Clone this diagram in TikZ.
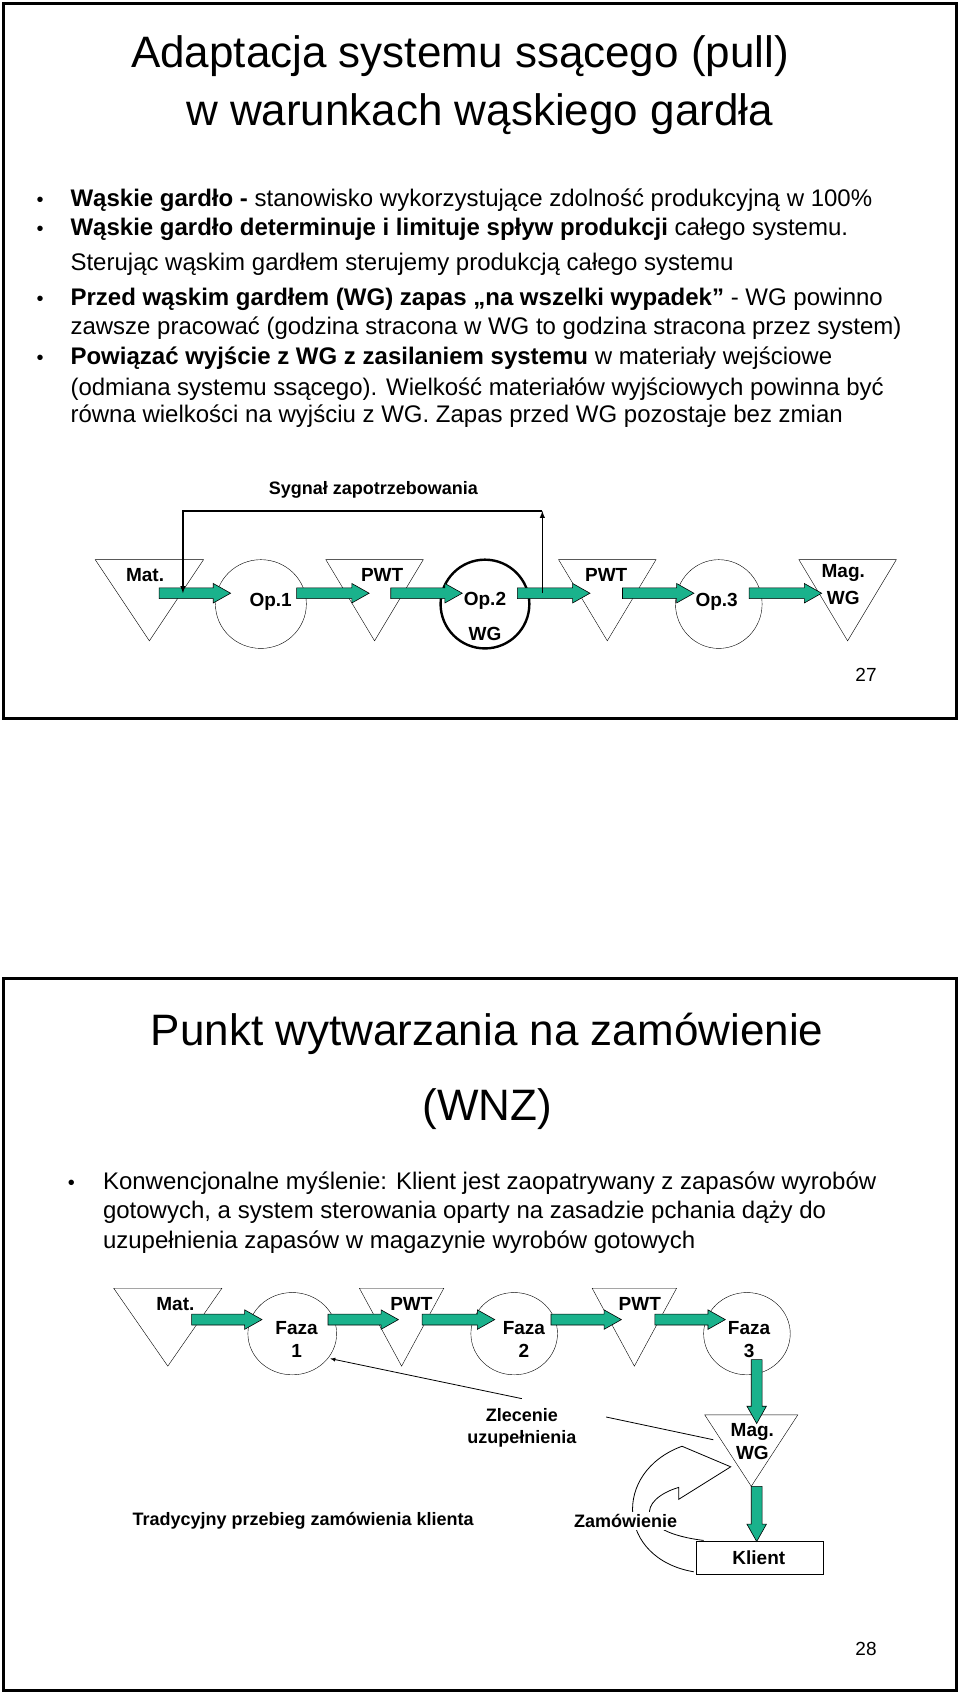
\documentclass[tikz,border=0pt]{standalone}
\usepackage{fontspec}
\setmainfont{Liberation Sans}
\definecolor{gfill}{RGB}{26,178,140}
\newcommand\harr[3]{\filldraw[garrow] (#1,#3-5) -- (#2-16,#3-5) -- (#2-16,#3-9) -- (#2,#3) -- (#2-16,#3+9) -- (#2-16,#3+5) -- (#1,#3+5) -- cycle;}
\newcommand\varr[3]{\filldraw[garrow] (#1-5,#2) -- (#1-5,#3-16) -- (#1-9,#3-16) -- (#1,#3) -- (#1+9,#3-16) -- (#1+5,#3-16) -- (#1+5,#2) -- cycle;}
\newcommand\tri[4]{\draw[thin] (#1-#3,#2) -- (#1+#3,#2) -- (#1,#2+#4) -- cycle;}
\begin{document}
\begin{tikzpicture}[x=1.0825pt,y=-1.0825pt,
  garrow/.style={fill=gfill,draw=black,line width=0.6pt},
  btxt/.style={anchor=base west,inner sep=0,font=\fontsize{24}{28}\selectfont},
  bul/.style={anchor=base,inner sep=0,font=\fontsize{20}{22}\selectfont},
  lab/.style={inner sep=0,font=\fontsize{19}{22}\selectfont\bfseries},
  plab/.style={inner sep=0,font=\fontsize{19}{22}\selectfont},
  ttl/.style={inner sep=0,font=\fontsize{44}{50}\selectfont}]
\useasboundingbox (0,0) rectangle (886.7,1565.8);
\fill[white] (0,0) rectangle (886.7,1565.8);
% frames
\draw[line width=3pt] (3,3) rectangle (884,664);
\draw[line width=3pt] (3,904) rectangle (884,1562);
% slide 1 title
\node[ttl] (t1) at (425,52) {Adaptacja systemu ssącego (pull)};
\node[ttl] (t2) at (443,105) {w warunkach wąskiego gardła};
% bullets
\foreach \y in {191,218,282,337} \node[bul] at (37,\y) {•};
\node[btxt] (b1) at (65,191) {\textbf{Wąskie gardło -} stanowisko wykorzystujące zdolność produkcyjną w 100\%};
\node[btxt] (b2) at (65,218) {\textbf{Wąskie gardło determinuje i limituje spływ produkcji} całego systemu.};
\node[btxt] (b3) at (65,250) {Sterując wąskim gardłem sterujemy produkcją całego systemu};
\node[btxt] (b4) at (65,282) {\textbf{Przed wąskim gardłem (WG) zapas „na wszelki wypadek”} - WG powinno};
\node[btxt] (b5) at (65,309) {zawsze pracować (godzina stracona w WG to godzina stracona przez system)};
\node[btxt] (b6) at (65,337) {\textbf{Powiązać wyjście z WG z zasilaniem systemu} w materiały wejściowe};
\node[btxt] (b7) at (65,365) {(odmiana systemu ssącego). Wielkość materiałów wyjściowych powinna być};
\node[btxt] (b8) at (65,390) {równa wielkości na wyjściu z WG. Zapas przed WG pozostaje bez zmian};
% diagram 1
\tri{138}{517}{50}{75}
\tri{346}{517}{45}{75}
\tri{561}{517}{45}{75}
\tri{783}{517}{45}{75}
\draw[thin] (241,558) ellipse [x radius=42,y radius=41];
\draw[line width=2.4pt] (448,558) ellipse [x radius=41,y radius=41];
\draw[thin] (664,558) ellipse [x radius=40,y radius=41];
\node[lab] (mat1) at (134,531) {Mat.};
\node[lab] (op1) at (250,556) {Op.1};
\node[lab] (pwt1) at (353,531) {PWT};
\node[lab] (op2) at (448,555) {Op.2};
\node[lab] (wg2) at (448,586) {WG};
\node[lab] (pwt2) at (560,531) {PWT};
\node[lab] (op3) at (662,556) {Op.3};
\node[lab] (mag1) at (779,529) {Mag.};
\node[lab] (mwg1) at (779,552) {WG};
\harr{147}{213}{548}
\harr{274}{341}{548}
\harr{361}{427}{548}
\harr{478}{545}{548}
\harr{575}{641}{548}
\harr{692}{759}{548}
\node[lab,font=\fontsize{18}{21}\selectfont\bfseries] (sig) at (345,453) {Sygnał zapotrzebowania};
\coordinate (fr) at (501,548);
\coordinate (fl) at (169,548);
\draw[line width=1.4pt,-latex] (fr) -- (501,472);
\draw[line width=1.4pt,-latex] (501,472) -- (169,472) -- (fl);
\node[inner sep=0,font=\fontsize{19}{22}\selectfont] (n27) at (800,623) {27};
% slide 2
\node[ttl] (t3) at (450,955) {Punkt wytwarzania na zamówienie};
\node[ttl] (t4) at (450,1025) {(WNZ)};
\node[bul] at (66,1099) {•};
\node[btxt] (c1) at (95,1099) {Konwencjonalne myślenie: Klient jest zaopatrywany z zapasów wyrobów};
\node[btxt] (c2) at (95,1126) {gotowych, a system sterowania oparty na zasadzie pchania dąży do};
\node[btxt] (c3) at (95,1153) {uzupełnienia zapasów w magazynie wyrobów gotowych};
% diagram 2
\tri{155}{1190}{50}{72}
\tri{371}{1190}{39}{72}
\tri{586}{1190}{39}{72}
\tri{694}{1307}{43}{66}
\draw[thin] (270,1232) ellipse [x radius=41,y radius=38];
\draw[thin] (475,1232) ellipse [x radius=40,y radius=38];
\draw[thin] (690,1232) ellipse [x radius=40,y radius=38];
\node[lab] (mat2) at (162,1205) {Mat.};
\node[lab] (pwt3) at (380,1205) {PWT};
\node[lab] (pwt4) at (591,1205) {PWT};
\node[lab,align=center] (f1) at (274,1237) {Faza\\[1pt]1};
\node[lab,align=center] (f2) at (484,1237) {Faza\\[1pt]2};
\node[lab,align=center] (f3) at (692,1237) {Faza\\[1pt]3};
\node[lab,align=center] (mag2) at (695,1332) {Mag.\\[1pt]WG};
\draw[thin] (643,1424) rectangle (760,1454);
\node[lab] (kl) at (701,1439) {Klient};
\harr{177}{242}{1219}
\harr{303}{368}{1219}
\harr{390}{457}{1219}
\harr{509}{574}{1219}
\harr{605}{670}{1219}
\varr{699}{1256}{1315}
\varr{699}{1373}{1424}
% order lines
\node[lab,align=center,font=\fontsize{18}{21}\selectfont\bfseries] (zl) at (482,1319) {Zlecenie\\[1pt]uzupełnienia};
\draw[line width=0.8pt,-latex] (482,1292) -- (305,1255);
\draw[line width=0.8pt] (560,1309) -- (659,1330);
% curved arrow
\draw[line width=0.8pt] (641,1452) .. controls (570,1440) and (565,1360) .. (630,1336) -- (675,1355) -- (627,1385) -- (627,1374) .. controls (590,1385) and (585,1415) .. (650,1423);
\node[lab,fill=white,inner sep=2pt,font=\fontsize{18}{21}\selectfont\bfseries] (zam) at (578,1405) {Zamówienie};
\node[lab,font=\fontsize{18}{21}\selectfont\bfseries] (trad) at (280,1405) {Tradycyjny przebieg zamówienia klienta};
\node[inner sep=0,font=\fontsize{19}{22}\selectfont] (n28) at (800,1523) {28};
\end{tikzpicture}
\end{document}
